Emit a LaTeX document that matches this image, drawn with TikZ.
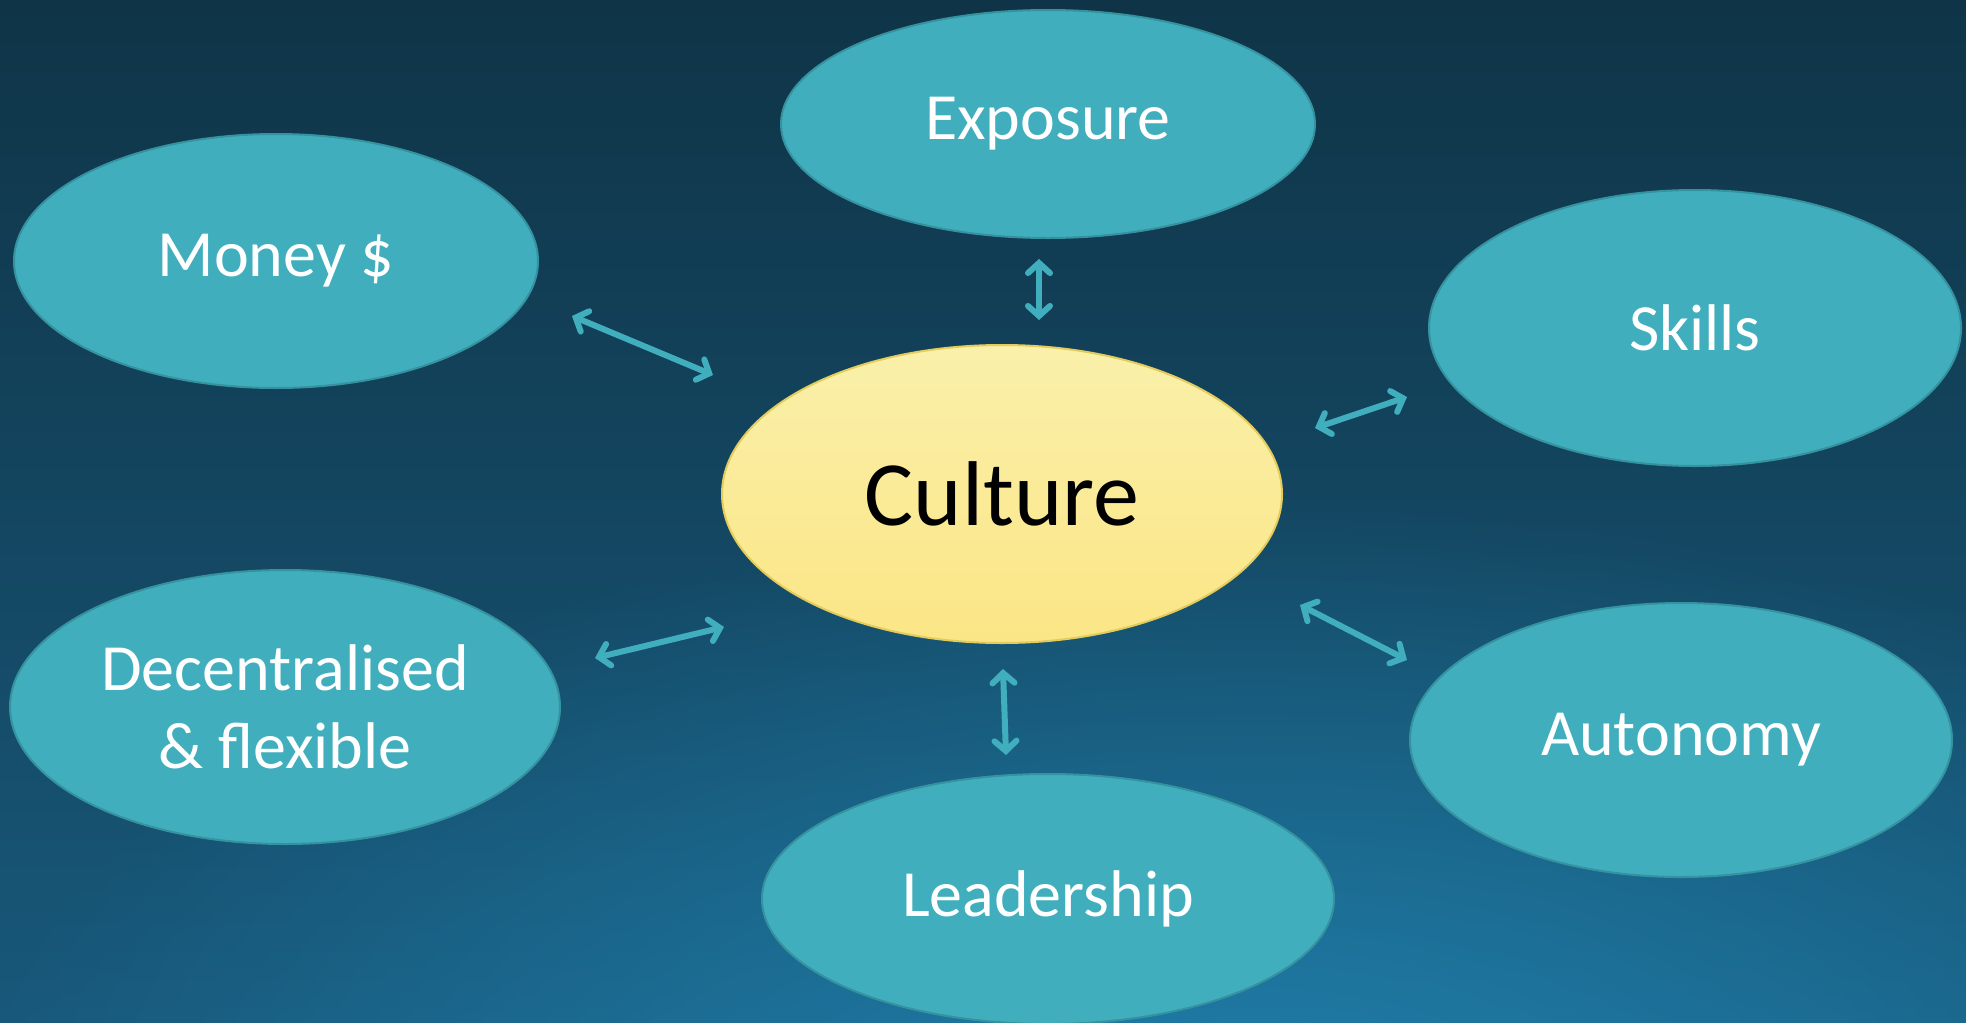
\documentclass[tikz,border=0pt]{standalone}
\usepackage{fontspec}
\setmainfont{Carlito}
\usetikzlibrary{shapes.geometric,arrows.meta,fadings}

\definecolor{bgtop}{HTML}{0F3447}
\definecolor{bgbot}{HTML}{18587A}
\definecolor{glow}{HTML}{2080AC}
\definecolor{teal}{HTML}{41AEBE}
\definecolor{tealline}{HTML}{35929F}
\definecolor{sunhi}{HTML}{FAF0AA}
\definecolor{sunlo}{HTML}{FBE686}
\definecolor{sunline}{HTML}{E3CC5C}

\tikzfading[name=softglow, inner color=transparent!0, outer color=transparent!100]

\begin{document}
\begin{tikzpicture}[x=0.5pt, y=-0.5pt,
    bubble/.style = {shape=ellipse, draw=tealline, line width=1pt,
      fill=teal, text=white, inner sep=0pt, align=center,
      font=\fontsize{33}{39}\selectfont},
    core/.style = {shape=ellipse, draw=sunline, line width=1pt,
      top color=sunhi, bottom color=sunlo, text=black, inner sep=0pt,
      font=\fontsize{46}{52}\selectfont},
    link/.style = {draw=teal, line width=3pt, line cap=round,
      {Straight Barb[length=5pt, width=11pt, line cap=round]}-{Straight Barb[length=5pt, width=11pt, line cap=round]}}]
  \useasboundingbox (0,0) rectangle (1966,1023);
  % background
  \fill[top color=bgtop, bottom color=bgbot] (0,0) rectangle (1966,1023);
  \fill[glow, path fading=softglow]
    (1250,1150) ellipse (1300 and 650);

  % nodes
  \node[core, minimum width=280pt, minimum height=149pt] (culture) at (1002,494) {Culture};
  \node[bubble, minimum width=267pt, minimum height=114pt] (exposure) at (1048,124) {Exposure};
  \node[bubble, minimum width=262pt, minimum height=127pt] (money) at (276,261) {Money \$};
  \node[bubble, minimum width=266pt, minimum height=138pt] (skills) at (1695,328) {Skills};
  \node[bubble, minimum width=275pt, minimum height=137pt] (decent) at (285,707) {Decentralised\\\& flexible};
  \node[bubble, minimum width=271pt, minimum height=137pt] (autonomy) at (1681,740) {Autonomy};
  \node[bubble, minimum width=286pt, minimum height=125pt] (leader) at (1048,899) {Leadership};

  % arrow ends
  \coordinate (m1) at (572,316);  \coordinate (m2) at (713,375);
  \coordinate (e1) at (1039,259); \coordinate (e2) at (1039,320);
  \coordinate (s1) at (1315,428); \coordinate (s2) at (1407,397);
  \coordinate (d1) at (595,658);  \coordinate (d2) at (724,627);
  \coordinate (l1) at (1003,669); \coordinate (l2) at (1006,755);
  \coordinate (a1) at (1300,605); \coordinate (a2) at (1407,660);

  % links
  \draw[link] (m1) -- (m2);
  \draw[link] (e1) -- (e2);
  \draw[link] (s1) -- (s2);
  \draw[link] (d1) -- (d2);
  \draw[link] (l1) -- (l2);
  \draw[link] (a1) -- (a2);
\end{tikzpicture}
\end{document}
